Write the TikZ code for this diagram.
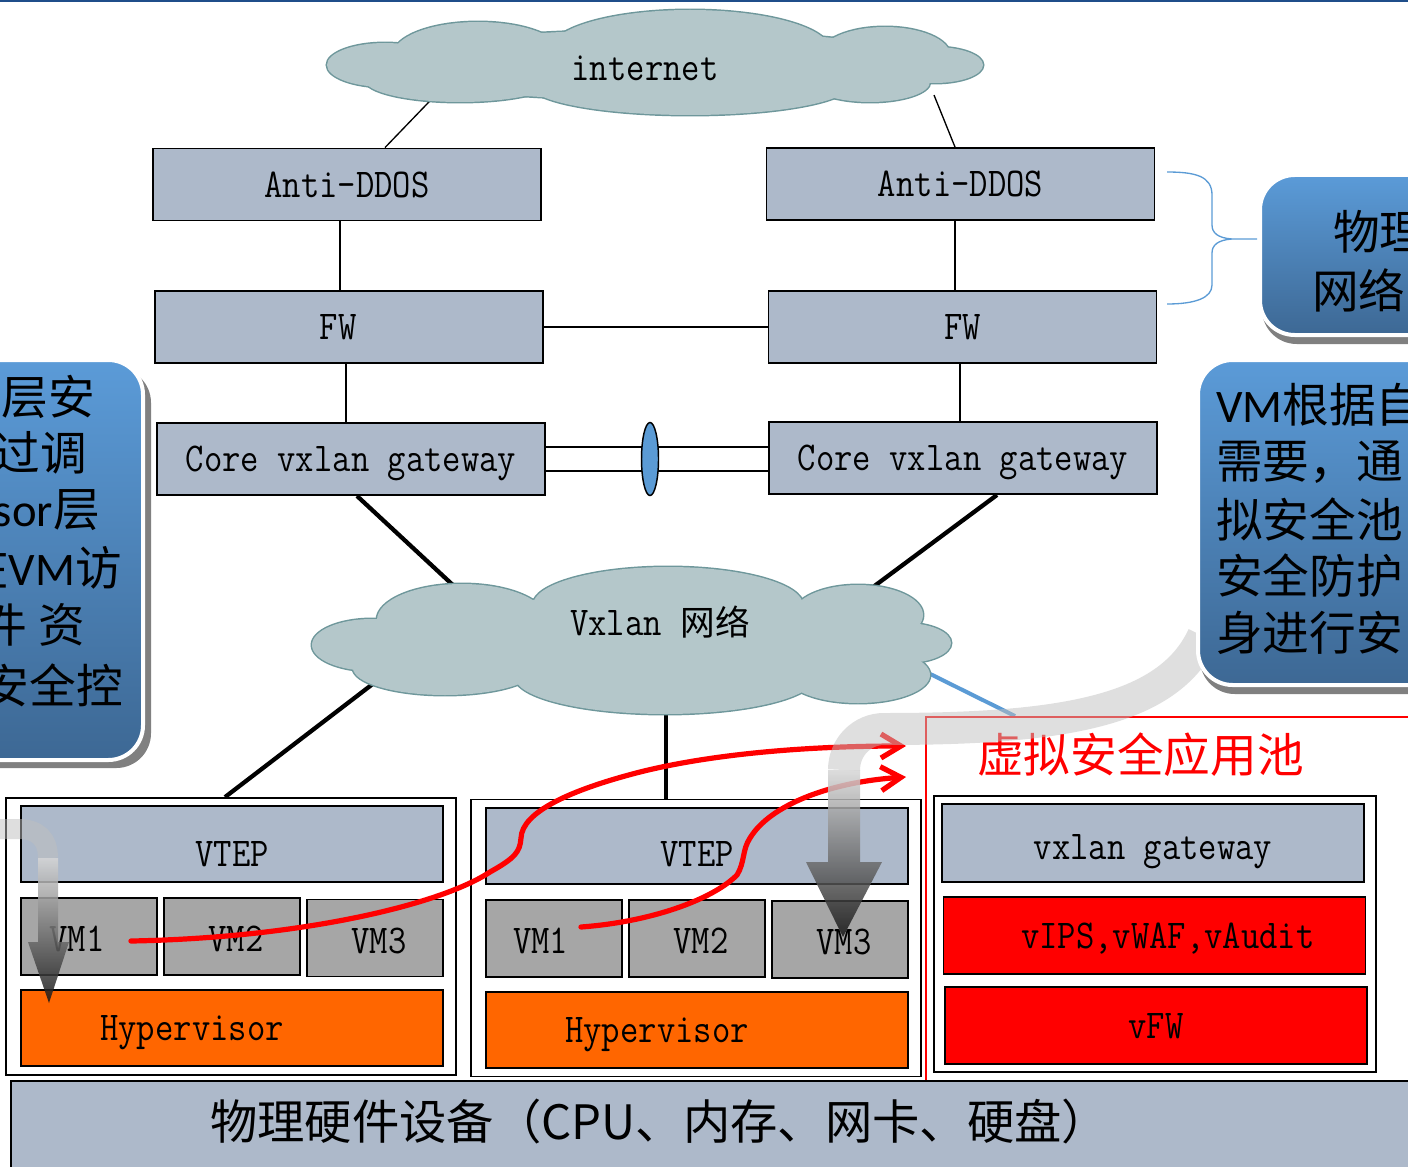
\documentclass[tikz,border=0pt]{standalone}
\usepackage{fontspec}
\usetikzlibrary{shapes.geometric,arrows.meta,calc}
\newfontfamily\cjk{Noto Sans CJK SC}
\newfontfamily\carl{Carlito}
\newfontfamily\lat{Latin Modern Mono}[FakeStretch=0.87]

\definecolor{boxblue}{HTML}{ADB9CA}
\definecolor{vmgray}{HTML}{A6A6A6}
\definecolor{hyporange}{HTML}{FF6600}
\definecolor{cloudfill}{HTML}{B4C7CA}
\definecolor{cloudedge}{HTML}{6E979B}
\definecolor{lagblue}{HTML}{5B9BD5}
\definecolor{toprule}{HTML}{1F4E8A}
\definecolor{calltop}{HTML}{5B9BD8}
\definecolor{callbot}{HTML}{3D6894}

\pgfdeclarelayer{background}
\pgfsetlayers{background,main}

% puffs of the two clouds: centre x / centre y / x radius / y radius
\def\inetpuffs{385/65/58/22, 478/55/85/33, 690/50/140/40, 885/55/65/28,
  935/65/48/18, 870/82/60/20, 690/85/160/30, 460/80/95/22, 655/65/280/35}
\def\vxpuffs{372/645/60/26, 462/620/85/36, 668/605/135/38, 858/615/65/30,
  905/643/46/20, 858/675/72/28, 665/677/150/37, 445/668/92/27, 630/642/270/45}

\tikzset{
  latfont/.style={font=\lat\fontsize{30.7}{32}\selectfont, text height=19pt, text depth=0pt},
  gbox/.style={draw=black, line width=1.4pt, fill=boxblue, inner sep=0pt, latfont},
  devsize/.style={minimum width=291pt, minimum height=54pt},
  layersize/.style={minimum width=316.5pt, minimum height=57pt},
  vmsize/.style={minimum width=102pt, minimum height=57.75pt},
  hostsize/.style={minimum width=337.5pt, minimum height=208pt},
  vmbox/.style={gbox, fill=vmgray, vmsize},
  hypbox/.style={gbox, fill=hyporange, layersize},
  secbox/.style={gbox, fill=red, layersize, minimum height=57.75pt},
  hostbox/.style={draw=black, line width=1.1pt, fill=white, inner sep=0pt},
  thinlink/.style={draw=black, line width=1pt},
  thicklink/.style={draw=black, line width=3.2pt},
  blueline/.style={draw=lagblue, line width=3pt},
  redflow/.style={draw=red, line width=3.9pt, line cap=round,
    -{Straight Barb[length=15pt,width=18pt]}},
  calltext/.style={inner sep=0pt, font=\cjk\fontsize{35}{35}\selectfont},
  callshadow/.style={fill=black!50, rounded corners=26pt},
  callbody/.style={top color=calltop, bottom color=callbot, draw=white,
    line width=3pt, rounded corners=26pt}
}

\begin{document}
\begin{tikzpicture}[x=0.75pt,y=-0.75pt]
\useasboundingbox (0,0) rectangle (1408,1166);
\clip (0,0) rectangle (1408,1166);

% rule along the top edge
\fill[toprule] (0,0) rectangle (1408,2.5);

% clouds: outline of every puff first, then the fills hide the inner arcs
\foreach \cx/\cy/\rx/\ry in \inetpuffs
  \draw[cloudedge, line width=2.2pt] (\cx,\cy) ellipse [x radius=\rx, y radius=\ry];
\foreach \cx/\cy/\rx/\ry in \inetpuffs
  \fill[cloudfill] (\cx,\cy) ellipse [x radius=\rx, y radius=\ry];
\coordinate (inet) at (655,64);
\node[latfont, inner sep=0pt] (inettxt) at (645,68) {internet};

\foreach \cx/\cy/\rx/\ry in \vxpuffs
  \draw[cloudedge, line width=2.2pt] (\cx,\cy) ellipse [x radius=\rx, y radius=\ry];
\foreach \cx/\cy/\rx/\ry in \vxpuffs
  \fill[cloudfill] (\cx,\cy) ellipse [x radius=\rx, y radius=\ry];
\coordinate (vx) at (631,640);
\node[inner sep=0pt, anchor=west] (vxtxt) at (570,622)
  {{\lat\fontsize{30.7}{32}\selectfont Vxlan}\hspace{14pt}{\cjk\fontsize{26}{26}\selectfont 网络}};

% physical network devices
\node[gbox, devsize] (adl) at (347,184.5) {Anti-DDOS};
\node[gbox, devsize] (adr) at (960.5,184) {Anti-DDOS};
\node[gbox, devsize, label={[latfont, xshift=-8pt]center:FW}] (fwl) at (349,327) {};
\node[gbox, devsize] (fwr) at (962.5,327) {FW};
\node[gbox, devsize] (cgl) at (351,459) {Core vxlan gateway};
\node[gbox, devsize] (cgr) at (963,458) {Core vxlan gateway};
\node[ellipse, draw=black, line width=1.1pt, fill=lagblue, inner sep=0pt,
  minimum width=12.75pt, minimum height=54.75pt] (lag) at (650,459) {};

% host 1
\node[hostbox, hostsize] (host1) at (231,936.5) {};
\node[gbox, layersize, label={[latfont, yshift=-7pt]center:VTEP}] (vtep1) at (232,844) {};
\node[vmbox, label={[latfont, xshift=-9pt, yshift=-2pt]center:VM1}] (vm11) at (89,936.5) {};
\node[vmbox, label={[latfont, xshift=3pt, yshift=-2pt]center:VM2}] (vm12) at (232,936.5) {};
\node[vmbox, label={[latfont, xshift=3pt, yshift=-2pt]center:VM3}] (vm13) at (375,938) {};
\node[hypbox, label={[latfont, xshift=-30pt]center:Hypervisor}] (hyp1) at (232,1028) {};

% host 2
\node[hostbox, hostsize] (host2) at (696,938) {};
\node[gbox, layersize, label={[latfont, yshift=-6pt]center:VTEP}] (vtep2) at (697,846) {};
\node[vmbox, label={[latfont, xshift=-10pt, yshift=-2pt]center:VM1}] (vm21) at (554,938.5) {};
\node[vmbox, label={[latfont, xshift=3pt, yshift=-2pt]center:VM2}] (vm22) at (697,938.5) {};
\node[vmbox, label={[latfont, xshift=3pt, yshift=-2pt]center:VM3}] (vm23) at (840,939.5) {};
\node[hypbox, label={[latfont, xshift=-30pt]center:Hypervisor}] (hyp2) at (697,1030) {};

% virtual security pool
\node[draw=red, line width=1.4pt, inner sep=0pt, minimum width=390pt, minimum height=285pt,
  anchor=north west] (pool) at (925,716) {};
\node[calltext, text=red, anchor=west] (pooltxt) at (977,755) {虚拟安全应用池};
\node[hostbox, minimum width=331.5pt, minimum height=207pt] (poolbox) at (1155,934) {};
\node[gbox, layersize, minimum height=58.5pt, label={[latfont, yshift=-3pt]center:vxlan gateway}] (vgw) at (1153,843) {};
\node[secbox, label={[latfont, xshift=10pt]center:vIPS,vWAF,vAudit}] (vips) at (1154.5,935.5) {};
\node[secbox] (vfw) at (1156,1025.5) {vFW};

% physical hardware
\node[gbox, minimum width=1065pt, minimum height=75pt, anchor=north west] (hw) at (10,1080) {};
\node[inner sep=0pt, anchor=west, font=\cjk\fontsize{35.5}{36}\selectfont] (hwtxt) at (210,1121)
  {物理硬件设备（CPU、内存、网卡、硬盘）};

\coordinate (pooltop) at (1015,716);
\coordinate (poolin1) at (906,746);
\coordinate (poolin2) at (906,777);

% links, kept under the shapes
\begin{pgfonlayer}{background}
  \draw[thinlink] ($(adl.north)+(38,0)$) -- ++(52,-54);
  \draw[thinlink] ($(adr.north)+(-5.5,0)$) -- ++(-21,-52);
  \draw[thinlink] ($(adl.south)+(-7,0)$) -- ($(fwl.north)+(-9,0)$);
  \draw[thinlink] ($(adr.south)+(-5.5,0)$) -- ($(fwr.north)+(-7.5,0)$);
  \draw[thinlink] (fwl.east) -- (fwr.west);
  \draw[thinlink] ($(fwl.south)+(-3,0)$) -- ($(cgl.north)+(-5,0)$);
  \draw[thinlink] ($(fwr.south)+(-2.5,0)$) -- ($(cgr.north)+(-3,0)$);
  \draw[thinlink] ($(cgl.east)+(0,-12)$) -- ($(cgr.west)+(0,-11)$);
  \draw[thinlink] ($(cgl.east)+(0,12)$) -- ($(cgr.west)+(0,13)$);
  \draw[thicklink] ($(cgl.south)+(6,0)$) -- ++(113,105);
  \draw[thicklink] ($(cgr.south)+(34,0)$) -- ++(-140,104);
  \draw[thicklink] ($(host1.north)+(-6,0)$) -- ++(175,-134);
  \draw[thicklink] ($(host2.north)+(-30,0)$) -- ++(0,-100);
  \draw[blueline] ($(vx)+(269,19)$) -- (pooltop);
\end{pgfonlayer}

% brace grouping the physical network devices
\draw[draw=lagblue, line width=1pt]
  (1167,172) .. controls (1195,172) and (1212,176) .. (1212,195) -- (1212,225)
  .. controls (1212,233) and (1218,238) .. (1232,239) -- (1257,239)
  (1232,239) .. controls (1218,240) and (1212,245) .. (1212,253) -- (1212,285)
  .. controls (1212,298) and (1195,304) .. (1167,304);

% traffic steered to the security pool
\draw[redflow] ($(vm11.east)+(-27,4.5)$) .. controls (300,938) and (440,905) .. (490,872)
  .. controls (515,858) and (520,852) .. (521,838)
  .. controls (522,812) and (570,790) .. (640,772)
  .. controls (720,752) and (820,746) .. (poolin1);
\draw[redflow] ($(vm21.east)+(-42,-11.5)$) .. controls (650,922) and (712,900) .. (737,875)
  .. controls (745,862) and (742,850) .. (750,838)
  .. controls (770,805) and (830,782) .. (poolin2);

% wide shaded arrows
\draw[line width=24pt, draw=black!25, opacity=0.5]
  (1203,636) .. controls (1168,712) and (1060,729) .. (884,729)
  .. controls (862,729) and (844,747) .. (844,770);
\shade[top color=black!16, bottom color=black!92, opacity=0.85]
  (828,770) -- (860,770) -- (860,862) -- (882,862) -- (843,937) -- (806,862) -- (828,862) -- cycle;
\draw[line width=15pt, draw=black!25, opacity=0.5]
  (-10,829) -- (18,829) .. controls (38,829) and (48,839) .. (48,858);
\shade[top color=black!16, bottom color=black!92, opacity=0.85]
  (38,858) -- (58,858) -- (58,942) -- (69,942) -- (49,1003) -- (28,942) -- (38,942) -- cycle;

% callouts
\fill[callshadow] (-52,368) rectangle (151,768);
\shade[callbody] (-60,360) rectangle (143,760);
\node[calltext, anchor=east] (l1) at (95,397) {层安};
\node[calltext, anchor=east] (l2) at (87,453) {过调};
\node[calltext, anchor=east] (l3) at (100,510) {{\carl sor}层};
\node[calltext, anchor=east] (l4) at (122,568) {在{\carl VM}访};
\node[calltext, anchor=east] (l5) at (85,625) {件 资};
\node[calltext, anchor=east] (l6) at (123,685) {安全控};

\fill[callshadow] (1262,183) rectangle (1460,344);
\shade[callbody] (1260,175) rectangle (1460,335);
\node[calltext, anchor=west] (r1) at (1333,232) {物理};
\node[calltext, anchor=west] (r2) at (1312,290) {网络};

\fill[callshadow] (1200,368) rectangle (1460,694);
\shade[callbody] (1198,360) rectangle (1460,685);
\node[calltext, anchor=west] (v1) at (1216,405) {{\carl VM}根据自};
\node[calltext, anchor=west] (v2) at (1216,462) {需要，通};
\node[calltext, anchor=west] (v3) at (1216,519) {拟安全池};
\node[calltext, anchor=west] (v4) at (1216,576) {安全防护};
\node[calltext, anchor=west] (v5) at (1216,633) {身进行安};
\end{tikzpicture}
\end{document}
